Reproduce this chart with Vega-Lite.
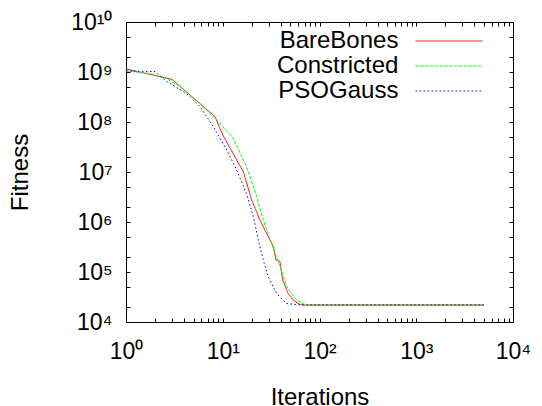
{
  "$schema": "https://vega.github.io/schema/vega-lite/v6.json",
  "width": 387,
  "height": 300,
  "autosize": {"type": "none"},
  "padding": {"left": 126, "top": 22, "right": 29, "bottom": 84},
  "background": "white",
  "config": {
    "view": {"stroke": "black", "strokeWidth": 1},
    "font": "Liberation Sans",
    "axis": {"domain": false, "grid": false, "ticks": true, "labelColor": "black", "titleColor": "black", "labelFont": "Liberation Sans", "titleFont": "Liberation Sans", "labelFontSize": 23, "titleFontSize": 24, "titleFontWeight": "normal", "labelFlush": false, "labelOverlap": false}
  },
  "data": {"values": [
    {"series": "BareBones", "it": 1, "fit": 1.15e9},
    {"series": "BareBones", "it": 3, "fit": 7.1e8},
    {"series": "BareBones", "it": 5.8, "fit": 2.34e8},
    {"series": "BareBones", "it": 8.3, "fit": 1.29e8},
    {"series": "BareBones", "it": 10, "fit": 5.5e7},
    {"series": "BareBones", "it": 12.8, "fit": 2.34e7},
    {"series": "BareBones", "it": 16.3, "fit": 1.02e7},
    {"series": "BareBones", "it": 19.9, "fit": 2.75e6},
    {"series": "BareBones", "it": 24.2, "fit": 1.1e6},
    {"series": "BareBones", "it": 28.4, "fit": 5.9e5},
    {"series": "BareBones", "it": 33.3, "fit": 3.24e5},
    {"series": "BareBones", "it": 35.5, "fit": 1.74e5},
    {"series": "BareBones", "it": 39, "fit": 1.62e5},
    {"series": "BareBones", "it": 41.6, "fit": 6.9e4},
    {"series": "BareBones", "it": 47.5, "fit": 3.7e4},
    {"series": "BareBones", "it": 53.5, "fit": 2.75e4},
    {"series": "BareBones", "it": 62.7, "fit": 2.24e4},
    {"series": "BareBones", "it": 70.8, "fit": 2.19e4},
    {"series": "BareBones", "it": 5000, "fit": 2.19e4},
    {"series": "Constricted", "it": 1, "fit": 1.05e9},
    {"series": "Constricted", "it": 1.77, "fit": 9.3e8},
    {"series": "Constricted", "it": 2.63, "fit": 7.4e8},
    {"series": "Constricted", "it": 3.61, "fit": 5.1e8},
    {"series": "Constricted", "it": 5.8, "fit": 2.34e8},
    {"series": "Constricted", "it": 9, "fit": 1.02e8},
    {"series": "Constricted", "it": 12.8, "fit": 4.7e7},
    {"series": "Constricted", "it": 17.6, "fit": 1.29e7},
    {"series": "Constricted", "it": 22.4, "fit": 3.24e6},
    {"series": "Constricted", "it": 26.2, "fit": 1.1e6},
    {"series": "Constricted", "it": 32, "fit": 3.7e5},
    {"series": "Constricted", "it": 39, "fit": 1.29e5},
    {"series": "Constricted", "it": 45.7, "fit": 5.1e4},
    {"series": "Constricted", "it": 58, "fit": 2.75e4},
    {"series": "Constricted", "it": 69, "fit": 2.3e4},
    {"series": "Constricted", "it": 74, "fit": 2.19e4},
    {"series": "Constricted", "it": 5000, "fit": 2.19e4},
    {"series": "PSOGauss", "it": 1, "fit": 1.05e9},
    {"series": "PSOGauss", "it": 2, "fit": 1.02e9},
    {"series": "PSOGauss", "it": 2.63, "fit": 6.5e8},
    {"series": "PSOGauss", "it": 4.24, "fit": 3.7e8},
    {"series": "PSOGauss", "it": 5.8, "fit": 2.04e8},
    {"series": "PSOGauss", "it": 7.98, "fit": 8.1e7},
    {"series": "PSOGauss", "it": 11, "fit": 2.75e7},
    {"series": "PSOGauss", "it": 13.9, "fit": 1.1e7},
    {"series": "PSOGauss", "it": 17.6, "fit": 3.7e6},
    {"series": "PSOGauss", "it": 20.7, "fit": 1.29e6},
    {"series": "PSOGauss", "it": 23.3, "fit": 4.4e5},
    {"series": "PSOGauss", "it": 26.2, "fit": 1.74e5},
    {"series": "PSOGauss", "it": 29.5, "fit": 8.1e4},
    {"series": "PSOGauss", "it": 36, "fit": 3.7e4},
    {"series": "PSOGauss", "it": 45.7, "fit": 2.34e4},
    {"series": "PSOGauss", "it": 62.7, "fit": 2.19e4},
    {"series": "PSOGauss", "it": 5000, "fit": 2.19e4}
  ]},
  "resolve": {"axis": {"x": "independent", "y": "independent"}},
  "layer": [
    {
      "mark": {"type": "point", "opacity": 0},
      "encoding": {
        "x": {"field": "it", "type": "quantitative",
          "axis": {"orient": "top", "title": null, "labels": false, "tickSize": -4, "tickColor": "#000000", "tickWidth": 1,
            "values": [1,2,3,4,5,6,7,8,9,10,20,30,40,50,60,70,80,90,100,200,300,400,500,600,700,800,900,1000,2000,3000,4000,5000,6000,7000,8000,9000,10000]}},
        "y": {"field": "fit", "type": "quantitative",
          "axis": {"orient": "right", "title": null, "labels": false, "tickSize": -4, "tickColor": "#000000", "tickWidth": 1,
            "values": [10000,20000,50000,100000,200000,500000,1000000,2000000,5000000,10000000,20000000,50000000,100000000,200000000,500000000,1000000000,2000000000,5000000000,10000000000]}}
      }
    },
    {
      "mark": {"type": "line", "strokeWidth": 1, "interpolate": "linear"},
      "encoding": {
        "x": {"field": "it", "type": "quantitative",
          "scale": {"type": "log", "domain": [1, 10000], "nice": false},
          "axis": {"orient": "bottom", "title": "Iterations", "titlePadding": 22, "labelPadding": 22, "tickSize": -4, "tickColor": "#000000", "tickWidth": 1,
            "values": [1,2,3,4,5,6,7,8,9,10,20,30,40,50,60,70,80,90,100,200,300,400,500,600,700,800,900,1000,2000,3000,4000,5000,6000,7000,8000,9000,10000],
            "labelExpr": "datum.value == 1 ? '10⁰' : datum.value == 10 ? '10¹' : datum.value == 100 ? '10²' : datum.value == 1000 ? '10³' : datum.value == 10000 ? '10⁴' : ''"}},
        "y": {"field": "fit", "type": "quantitative",
          "scale": {"type": "log", "domain": [10000, 10000000000], "nice": false},
          "axis": {"orient": "left", "title": "Fitness", "titlePadding": 38, "labelPadding": 18, "tickSize": -4, "tickColor": "#000000", "tickWidth": 1,
            "values": [10000,20000,50000,100000,200000,500000,1000000,2000000,5000000,10000000,20000000,50000000,100000000,200000000,500000000,1000000000,2000000000,5000000000,10000000000],
            "labelExpr": "datum.value == 1e4 ? '10⁴' : datum.value == 1e5 ? '10⁵' : datum.value == 1e6 ? '10⁶' : datum.value == 1e7 ? '10⁷' : datum.value == 1e8 ? '10⁸' : datum.value == 1e9 ? '10⁹' : datum.value == 1e10 ? '10¹⁰' : ''"}},
        "color": {"field": "series", "type": "nominal",
          "scale": {"domain": ["BareBones", "Constricted", "PSOGauss"], "range": ["#ff0000", "#00ff00", "#0000ff"]},
          "legend": {"orient": "none", "legendX": 311, "legendY": 7, "title": null, "padding": 0,
            "symbolType": "M-3,0H3", "symbolSize": 498, "symbolStrokeWidth": 1,
            "labelAlign": "right", "labelOffset": -62.6, "labelFontSize": 24, "labelFont": "Liberation Sans", "labelColor": "black", "labelLimit": 0, "rowPadding": 1}},
        "strokeDash": {"field": "series", "type": "nominal",
          "scale": {"domain": ["BareBones", "Constricted", "PSOGauss"], "range": [[1, 0], [3.3, 1.5], [1.5, 2.5]]},
          "legend": {"orient": "none", "legendX": 311, "legendY": 7, "title": null, "padding": 0,
            "symbolType": "M-3,0H3", "symbolSize": 498, "symbolStrokeWidth": 1,
            "labelAlign": "right", "labelOffset": -62.6, "labelFontSize": 24, "labelFont": "Liberation Sans", "labelColor": "black", "labelLimit": 0, "rowPadding": 1}}
      }
    }
  ]
}
